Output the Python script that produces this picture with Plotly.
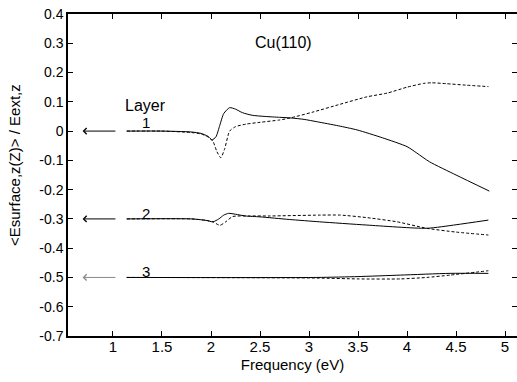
import plotly.graph_objects as go

# ---- data ----
l1_solid_x = [1.14, 1.5, 1.8, 1.9, 1.97, 2.01, 2.05, 2.09, 2.13, 2.19, 2.25, 2.32, 2.42, 2.55, 2.70, 2.81, 2.95, 3.08, 3.3, 3.49, 3.75, 4.0, 4.1, 4.23, 4.5, 4.84]
l1_solid_y = [0.0, 0.0, -0.003, -0.008, -0.018, -0.03, -0.02, 0.02, 0.06, 0.080, 0.075, 0.063, 0.054, 0.050, 0.047, 0.045, 0.040, 0.032, 0.018, 0.004, -0.023, -0.053, -0.075, -0.105, -0.150, -0.205]

l1_dash_x = [1.14, 1.5, 1.8, 1.9, 1.97, 2.02, 2.06, 2.10, 2.14, 2.19, 2.25, 2.36, 2.5, 2.7, 2.81, 3.04, 3.3, 3.59, 3.8, 4.0, 4.17, 4.25, 4.4, 4.6, 4.83]
l1_dash_y = [0.0, 0.0, -0.005, -0.01, -0.02, -0.035, -0.07, -0.091, -0.06, 0.0, 0.015, 0.024, 0.030, 0.038, 0.045, 0.065, 0.09, 0.117, 0.13, 0.150, 0.163, 0.165, 0.162, 0.157, 0.152]

l2_solid_x = [1.14, 1.8, 1.95, 2.02, 2.08, 2.13, 2.18, 2.25, 2.35, 2.5, 2.8, 3.11, 3.59, 4.2, 4.5, 4.83]
l2_solid_y = [-0.3, -0.3, -0.305, -0.31, -0.3, -0.287, -0.281, -0.284, -0.29, -0.293, -0.302, -0.310, -0.321, -0.332, -0.32, -0.304]

l2_dash_x = [1.14, 1.8, 1.95, 2.02, 2.09, 2.15, 2.22, 2.4, 2.6, 3.11, 3.32, 3.6, 3.9, 4.2, 4.5, 4.83]
l2_dash_y = [-0.3, -0.3, -0.305, -0.31, -0.322, -0.31, -0.292, -0.29, -0.290, -0.287, -0.287, -0.296, -0.31, -0.332, -0.345, -0.355]

l3_solid_x = [1.14, 3.08, 3.5, 3.93, 4.44, 4.83]
l3_solid_y = [-0.5, -0.5, -0.497, -0.492, -0.486, -0.486]

l3_dash_x = [1.14, 3.08, 3.5, 3.93, 4.2, 4.44, 4.83]
l3_dash_y = [-0.5, -0.502, -0.505, -0.505, -0.500, -0.492, -0.477]

layer_names = ["1", "2", "3"]
layer_levels = [0.0, -0.3, -0.5]
layer_label_y = [0.028, -0.280, -0.481]
arrow_colors = ["black", "black", "#888888"]
arrow_from_x = 1.04
arrow_to_x = 0.69

x_ticks = [1, 1.5, 2, 2.5, 3, 3.5, 4, 4.5, 5]
x_tick_text = ["1", "1.5", "2", "2.5", "3", "3.5", "4", "4.5", "5"]
y_ticks = [0.4, 0.3, 0.2, 0.1, 0, -0.1, -0.2, -0.3, -0.4, -0.5, -0.6, -0.7]
y_tick_text = ["0.4", "0.3", "0.2", "0.1", "0", "-0.1", "-0.2", "-0.3", "-0.4", "-0.5", "-0.6", "-0.7"]

FONT = "Liberation Sans, Arial, sans-serif"

W, H = 517, 382
ML, MR, MT, MB = 68, 0, 14, 46

fig = go.Figure()
series = [
    (l1_solid_x, l1_solid_y, "solid"), (l1_dash_x, l1_dash_y, "3px,2px"),
    (l2_solid_x, l2_solid_y, "solid"), (l2_dash_x, l2_dash_y, "3px,2px"),
    (l3_solid_x, l3_solid_y, "solid"), (l3_dash_x, l3_dash_y, "3px,2px"),
]
for xs, ys, dash in series:
    fig.add_trace(go.Scatter(x=xs, y=ys, mode="lines",
                             line=dict(color="black", width=1, dash=dash, shape="spline", smoothing=0.6),
                             showlegend=False, hoverinfo="skip"))

annotations = []
for name, lvl, ly, col in zip(layer_names, layer_levels, layer_label_y, arrow_colors):
    annotations.append(dict(x=arrow_to_x, y=lvl, ax=arrow_from_x, ay=lvl, xref="x", yref="y", axref="x", ayref="y",
                            text="", showarrow=True, arrowhead=4, arrowsize=1.2, arrowwidth=1, arrowcolor=col))
    annotations.append(dict(x=1.335, y=ly, xref="x", yref="y", text=name, showarrow=False,
                            font=dict(family=FONT, size=15, color="black")))
annotations.append(dict(x=1.327, y=0.089, xref="x", yref="y", text="Layer", showarrow=False,
                        font=dict(family=FONT, size=16, color="black")))
annotations.append(dict(x=2.735, y=0.301, xref="x", yref="y", text="Cu(110)", showarrow=False,
                        font=dict(family=FONT, size=16, color="black")))
plot_w = W - ML - MR
plot_h = H - MT - MB
annotations.append(dict(x=(14 - ML) / plot_w, y=(H - MB - 165) / plot_h, xref="paper", yref="paper",
                        xanchor="center", yanchor="middle",
                        text="<Esurface,z(Z)> / Eext,z", showarrow=False,
                        textangle=-90, font=dict(family=FONT, size=15, color="black")))

fig.update_layout(
    width=W, height=H,
    margin=dict(l=ML, r=MR, t=MT, b=MB, pad=0),
    paper_bgcolor="white", plot_bgcolor="white",
    font=dict(family=FONT, color="black"),
    annotations=annotations,
    xaxis=dict(range=[0.541, 5.122], tickvals=x_ticks, ticktext=x_tick_text, ticks="inside", ticklen=5,
               tickwidth=1, tickcolor="black", showline=True, linecolor="black", linewidth=1.5, mirror="ticks",
               showgrid=False, zeroline=False, tickfont=dict(family=FONT, size=15), automargin=False,
               ticklabeloverflow="allow", ticklabelstandoff=-4,
               title=dict(text="Frequency (eV)", font=dict(family=FONT, size=15), standoff=6)),
    yaxis=dict(range=[-0.7, 0.4], tickvals=y_ticks, ticktext=y_tick_text, ticks="inside", ticklen=5,
               tickwidth=1, tickcolor="black", showline=True, linecolor="black", linewidth=1.5, mirror="ticks",
               showgrid=False, zeroline=False, tickfont=dict(family=FONT, size=14), automargin=False,
               ticklabeloverflow="allow"),
)

# remove the default page margin so the figure sits at the window's top-left corner
fig.write_html("out.html", config={"displayModeBar": False},
               post_script="document.body.style.margin='0px';")
